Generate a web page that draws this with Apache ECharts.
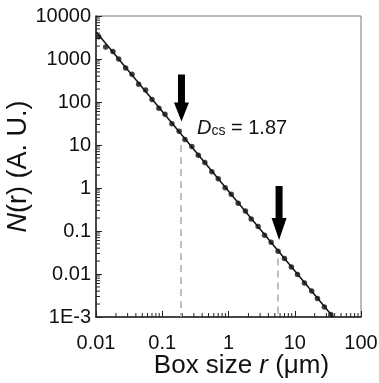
<!DOCTYPE html>
<html>
<head>
<meta charset="utf-8">
<script src="https://cdn.jsdelivr.net/npm/echarts@6/dist/echarts.min.js"></script>
<style>
  html, body { margin: 0; padding: 0; background: #fff; }
  #chart { width: 379px; height: 383px; }
</style>
</head>
<body>
<div id="chart"></div>
<script>
// box size r (um) and box count N(r)
const boxSize = [0.011, 0.014, 0.018, 0.022, 0.028, 0.035, 0.044, 0.056, 0.07, 0.089,
  0.11, 0.14, 0.18, 0.22, 0.28, 0.35, 0.44, 0.56, 0.7, 0.89,
  1.1, 1.4, 1.8, 2.2, 2.8, 3.5, 4.4, 5.6, 7.0, 8.9,
  11, 14, 18, 22, 28, 35]
const boxCount = [3300, 1900, 1500, 1000, 620, 440, 260, 190, 115, 72,
  52, 31, 21, 13.5, 9.2, 5.8, 3.9, 2.4, 1.65, 1.02,
  0.72, 0.44, 0.29, 0.19, 0.128, 0.08, 0.055, 0.034, 0.023, 0.0145,
  0.0098, 0.0062, 0.004, 0.0027, 0.0017, 0.00115]

// fitted power law, end points
const fitR = [0.01, 38]
const fitN = [4300, 0.001]

// markers: arrows and dashed guides
const arrowR = [0.195, 5.8]
const arrowTipN = [35, 0.062]
const guideR = [0.19, 5.5]
const guideTopN = [10, 0.023]

const xTicks = [0.01, 0.1, 1, 10, 100]
const yTicks = [0.001, 0.01, 0.1, 1, 10, 100, 1000, 10000]
const yTickLabels = ['1E-3', '0.01', '0.1', '1', '10', '100', '1000', '10000']

// minor tick values on each decade (2..9)
const xMinor = []
for (let i = 0; i < xTicks.length - 1; i++) {
  for (let k = 2; k <= 9; k++) xMinor.push(xTicks[i] * k)
}
const yMinor = []
for (let i = 0; i < yTicks.length - 1; i++) {
  for (let k = 2; k <= 9; k++) yMinor.push(yTicks[i] * k)
}

const font = 'Liberation Sans, Arial, sans-serif'
const arrowPath = 'path://M4,0L11,0L11,28L15,28L7.5,47L0,28L4,28Z'

const chart = echarts.init(document.getElementById('chart'))

const option = {
  animation: false,
  grid: {
    left: 96, right: 18, top: 16, bottom: 66,
    outerBoundsMode: 'none',
    containLabel: false,
    show: true, borderColor: '#777', borderWidth: 1
  },
  xAxis: {
    type: 'log',
    logBase: 10,
    min: xTicks[0],
    max: xTicks[xTicks.length - 1],
    interval: 1,
    name: 'Box size {i|r} (μm)',
    nameLocation: 'middle',
    nameMoveOverlap: false,
    nameGap: 36,
    nameTextStyle: {
      fontFamily: font, fontSize: 26, color: '#111', padding: [0, 0, 0, 26],
      rich: { i: { fontFamily: font, fontSize: 26, fontStyle: 'italic', color: '#111' } }
    },
    axisLine: { lineStyle: { color: '#222', width: 1.5 } },
    axisTick: { inside: true, length: 6, lineStyle: { color: '#222' } },
    axisLabel: {
      fontFamily: font, fontSize: 20, color: '#111', margin: 16,
      formatter: v => String(v)
    },
    splitLine: { show: false }
  },
  yAxis: {
    type: 'log',
    logBase: 10,
    min: yTicks[0],
    max: yTicks[yTicks.length - 1],
    interval: 1,
    name: '{i|N}(r) (A. U.)',
    nameLocation: 'middle',
    nameMoveOverlap: false,
    nameGap: 64,
    nameTextStyle: {
      fontFamily: font, fontSize: 27, color: '#111',
      rich: { i: { fontFamily: font, fontSize: 27, fontStyle: 'italic', color: '#111' } }
    },
    axisLine: { lineStyle: { color: '#222', width: 1.5 } },
    axisTick: { inside: true, length: 6, lineStyle: { color: '#222' } },
    axisLabel: {
      fontFamily: font, fontSize: 20, color: '#111', margin: 5,
      formatter: v => {
        const i = yTicks.findIndex(t => Math.abs(Math.log10(t) - Math.log10(v)) < 1e-6)
        return i >= 0 ? yTickLabels[i] : ''
      }
    },
    splitLine: { show: false }
  },
  graphic: [{
    type: 'text',
    left: 197,
    top: 118,
    style: {
      text: '{d|D}{s|cs}{n| = 1.87}',
      rich: {
        d: { fontFamily: font, fontSize: 20, fontStyle: 'italic', fill: '#111' },
        s: { fontFamily: font, fontSize: 14, fill: '#111', verticalAlign: 'bottom', padding: [6, 0, 0, 0] },
        n: { fontFamily: font, fontSize: 20, fill: '#111' }
      }
    }
  }],
  series: [
    {
      name: 'fit',
      type: 'line',
      data: fitR.map((r, i) => [r, fitN[i]]),
      symbol: 'none',
      lineStyle: { color: '#111', width: 1.5 },
      z: 2
    },
    {
      name: 'N(r)',
      type: 'scatter',
      data: boxSize.map((r, i) => [r, boxCount[i]]),
      symbol: 'circle',
      symbolSize: 5.5,
      itemStyle: { color: '#111' },
      z: 3,
      markLine: {
        silent: true,
        symbol: 'none',
        label: { show: false },
        lineStyle: { type: [7, 5], color: '#aaa', width: 1.5 },
        data: guideR.map((r, i) => [{ coord: [r, guideTopN[i]] }, { coord: [r, yTicks[0]] }])
      },
      markPoint: {
        silent: true,
        symbol: arrowPath,
        label: { show: false },
        itemStyle: { color: '#000' },
        data: [
          { coord: [arrowR[0], arrowTipN[0]], symbolSize: [15, 47], symbolOffset: [0, '-50%'] },
          { coord: [arrowR[1], arrowTipN[1]], symbolSize: [15, 54], symbolOffset: [0, '-50%'] }
        ]
      }
    },
    {
      name: 'xMinor',
      type: 'custom',
      silent: true,
      clip: false,
      data: xMinor.map(v => [v, yTicks[0]]),
      renderItem: (params, api) => {
        const p = api.coord([api.value(0), api.value(1)])
        return { type: 'line', shape: { x1: p[0], y1: p[1], x2: p[0], y2: p[1] - 4 }, style: { stroke: '#222', lineWidth: 1 } }
      }
    },
    {
      name: 'yMinor',
      type: 'custom',
      silent: true,
      clip: false,
      data: yMinor.map(v => [xTicks[0], v]),
      renderItem: (params, api) => {
        const p = api.coord([api.value(0), api.value(1)])
        return { type: 'line', shape: { x1: p[0], y1: p[1], x2: p[0] + 4, y2: p[1] }, style: { stroke: '#222', lineWidth: 1 } }
      }
    }
  ]
}
chart.setOption(option)
</script>
</body>
</html>
